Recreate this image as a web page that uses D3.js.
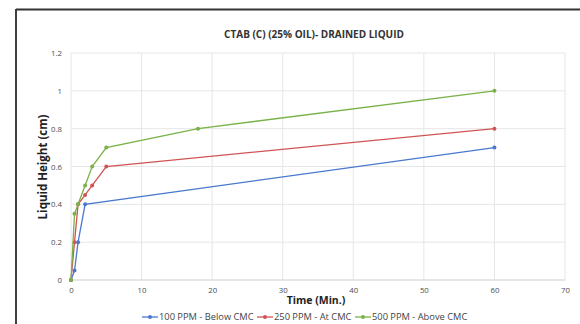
<!DOCTYPE html>
<html><head><meta charset="utf-8">
<script src="https://cdn.jsdelivr.net/npm/d3@7"></script>
<style>body{margin:0;background:#fff;}svg{display:block;}</style>
</head><body>
<svg id="c" width="580" height="324"></svg>
<script>
const title = "CTAB (C) (25% OIL)- DRAINED LIQUID";
const xTicks = [0,10,20,30,40,50,60,70];
const yTicks = [0,0.2,0.4,0.6,0.8,1,1.2];
const seriesNames = ["100 PPM - Below CMC","250 PPM - At CMC","500 PPM - Above CMC"];
const seriesColors = ["#4a78cf","#d05454","#79b247"];
const blueT = [0,0.5,1,2,60];
const blueV = [0,0.05,0.2,0.4,0.7];
const redT = [0,0.5,1,2,3,5,60];
const redV = [0,0.2,0.4,0.45,0.5,0.6,0.8];
const greenT = [0,0.5,1,2,3,5,18,60];
const greenV = [0,0.35,0.4,0.5,0.6,0.7,0.8,1.0];

const series = [
  {name:seriesNames[0], color:seriesColors[0], pts:blueT.map((t,i)=>[t,blueV[i]])},
  {name:seriesNames[1], color:seriesColors[1], pts:redT.map((t,i)=>[t,redV[i]])},
  {name:seriesNames[2], color:seriesColors[2], pts:greenT.map((t,i)=>[t,greenV[i]])}
];

const svg = d3.select("#c");
// frame
svg.append("line").attr("x1",16).attr("x2",16).attr("y1",9).attr("y2",324).attr("stroke","#111").attr("stroke-width",1.6);
svg.append("line").attr("x1",16).attr("x2",580).attr("y1",9.5).attr("y2",9.5).attr("stroke","#333").attr("stroke-width",2);

const x = d3.scaleLinear().domain([0,70]).range([71,565]);
const y = d3.scaleLinear().domain([0,1.2]).range([280,53]);

const g = svg.append("g");
// gridlines
g.selectAll(".hg").data(yTicks).enter().append("line")
  .attr("x1",x(0)).attr("x2",x(70)).attr("y1",d=>y(d)).attr("y2",d=>y(d))
  .attr("stroke","#e6e6e6").attr("stroke-width",1);
g.selectAll(".vg").data(xTicks).enter().append("line")
  .attr("y1",y(0)).attr("y2",y(1.2)).attr("x1",d=>x(d)).attr("x2",d=>x(d))
  .attr("stroke","#e6e6e6").attr("stroke-width",1);

// axes via d3
const xAxis = d3.axisBottom(x).tickValues(xTicks).tickSize(0).tickPadding(7).tickFormat(d3.format("d"));
const yAxis = d3.axisLeft(y).tickValues(yTicks).tickSize(0).tickPadding(9).tickFormat(d=>String(d));
const xa = svg.append("g").attr("transform",`translate(0,${y(0)})`).call(xAxis);
const ya = svg.append("g").attr("transform",`translate(${x(0)},0)`).call(yAxis);
[xa,ya].forEach(a=>{
  a.select(".domain").remove();
  a.selectAll("text").attr("font-family","Open Sans, sans-serif").attr("font-size",7.8).attr("fill","#4d4d4d");
});
svg.append("line").attr("x1",x(0)).attr("x2",x(70)).attr("y1",y(0)).attr("y2",y(0)).attr("stroke","#d9d9d9");

// lines
const line = d3.line().x(d=>x(d[0])).y(d=>y(d[1]));
series.forEach(s=>{
  svg.append("path").datum(s.pts).attr("d",line).attr("fill","none").attr("stroke",s.color).attr("stroke-width",1.3);
  svg.selectAll(null).data(s.pts).enter().append("circle")
    .attr("cx",d=>x(d[0])).attr("cy",d=>y(d[1])).attr("r",2).attr("fill",s.color);
});

// title
svg.append("text").attr("x",314).attr("y",38).attr("text-anchor","middle")
  .attr("font-family","Open Sans, sans-serif").attr("font-weight","bold").attr("font-size",10)
  .attr("fill","#333").text(title);
// axis titles
svg.append("text").attr("x",316).attr("y",304).attr("text-anchor","middle")
  .attr("font-family","Open Sans, sans-serif").attr("font-weight","bold").attr("font-size",10.5)
  .attr("fill","#222").text("Time (Min.)");
svg.append("text").attr("transform","translate(47,167) rotate(-90)").attr("text-anchor","middle")
  .attr("font-family","Open Sans, sans-serif").attr("font-weight","bold").attr("font-size",11.5)
  .attr("fill","#222").text("Liquid Height (cm)");

// legend
const legX = [142,257,355];
series.forEach((s,i)=>{
  const lg = svg.append("g").attr("transform",`translate(${legX[i]},317)`);
  lg.append("line").attr("x1",0).attr("x2",16).attr("y1",0).attr("y2",0).attr("stroke",s.color).attr("stroke-width",1.3);
  lg.append("circle").attr("cx",8).attr("cy",0).attr("r",2).attr("fill",s.color);
  lg.append("text").attr("x",17).attr("y",3.3).attr("font-family","Open Sans, sans-serif").attr("font-size",9.3)
    .attr("fill","#444").text(s.name);
});
</script>
</body></html>
